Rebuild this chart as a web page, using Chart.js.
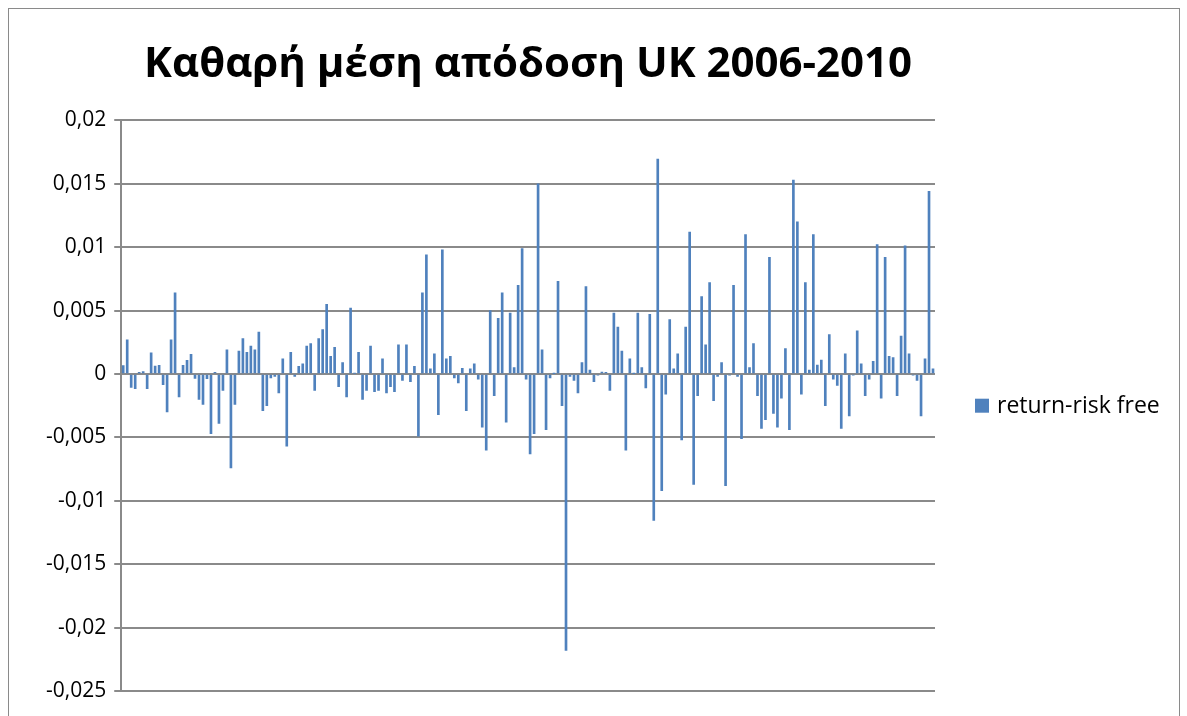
<!DOCTYPE html>
<html>
<head>
<meta charset="utf-8">
<script src="https://cdn.jsdelivr.net/npm/chart.js@4.4.0/dist/chart.umd.min.js"></script>
<style>
  html, body { margin: 0; padding: 0; background: #fff; overflow: hidden; }
  #frame { position: absolute; left: 8px; top: 8px; width: 1172px; height: 730px; border: 1px solid #8a8a8a; box-sizing: border-box; }
  #chartBox { position: absolute; left: 0; top: 0; width: 1187px; height: 716px; }
</style>
</head>
<body>
<div id="frame"></div>
<div id="chartBox"><canvas id="myChart"></canvas></div>
<script>
var chartTitle = 'Καθαρή μέση απόδοση UK 2006-2010';
var seriesName = 'return-risk free';
var barColor = '#4F81BD';
var gridColor = '#8a8a8a';

// weekly excess returns, 2006-2010
var excessReturn = [
  0.00066, 0.0027, -0.00105, -0.00116, 0.00013, 0.0002, -0.00116, 0.00166, 0.00063, 0.00068,
  -0.00084, -0.003, 0.0027, 0.0064, -0.0018, 0.00068, 0.00108, 0.00155, -0.00034, -0.002,
  -0.0024, -0.00037, -0.0047, 0.00013, -0.0039, -0.0013, 0.0019,
  -0.0074, -0.0024, 0.0018, 0.0028, 0.0017, 0.0022, 0.0019, 0.0033, -0.0029, -0.0025,
  -0.0003, -0.0002, -0.0015, 0.0012, -0.0057, 0.0017, -0.0002, 0.0006, 0.0008, 0.0022,
  0.0024, -0.0013, 0.0028, 0.0035, 0.0055, 0.0014,
  0.0021, -0.001, 0.0009, -0.0018, 0.0052, 0.00005, 0.0017, -0.002, -0.0013, 0.0022,
  -0.0014, -0.0013, 0.0012, -0.0015, -0.001, -0.0014, 0.0023, -0.0005, 0.0023, -0.0006,
  0.0006, -0.0049, 0.0064, 0.0094, 0.0004, 0.0016,
  -0.0032, 0.0098, 0.0012, 0.0014, -0.0003, -0.0007, 0.00045, -0.0029, 0.0004, 0.0008,
  -0.0004, -0.0042, -0.006, 0.005, -0.0017, 0.0044, 0.0064, -0.0038, 0.0048, 0.0005,
  0.007, 0.0099, -0.0004, -0.0063, -0.0047, 0.015, 0.0019,
  -0.0044, -0.0003, 0.00002, 0.0073, -0.0025, -0.0218, -0.0002, -0.0005, -0.0015, 0.0009,
  0.0069, 0.0003, -0.0006, -0.0001, 0.00015, 0.00013, -0.0013, 0.0048, 0.0037, 0.0018,
  -0.006, 0.0012, 0.00002, 0.0048, 0.0005, -0.0011,
  0.0047, -0.01155, 0.01695, -0.0092, -0.0016, 0.0043, 0.0004, 0.0016, -0.0052, 0.0037,
  0.0112, -0.0087, -0.0017, 0.0061, 0.0023, 0.0072, -0.0021, -0.0002, 0.0009, -0.0088,
  -0.0001, 0.007, -0.0002, -0.0051, 0.011, 0.0005,
  0.0024, -0.0017, -0.0043, -0.0036, 0.0092, -0.0031, -0.0042, -0.0019, 0.002, -0.0044,
  0.0153, 0.012, -0.0016, 0.0072, 0.0003, 0.011, 0.0007, 0.0011, -0.0025, 0.0031,
  -0.0004, -0.0009, -0.0043, 0.0016, -0.0033, -0.0001, 0.0034,
  0.0008, -0.0017, -0.0004, 0.001, 0.0102, -0.0019, 0.0092, 0.0014, 0.0013, -0.0017,
  0.003, 0.0101, 0.0016, -0.0001, -0.0005, -0.0033, 0.0012, 0.0144, 0.0004
];
// one category per week, not labelled on the axis
var weeks = excessReturn.map(function(v, i){ return i + 1; });

var yMin = -0.025, yMax = 0.02, yStep = 0.005;

function commaTick(v){
  return String(+v.toFixed(3)).replace('.', ',');
}

// legend drawn by hand, right of the plot and centred on it
var sideLegend = {
  id : 'sideLegend',
  afterDraw : function(chart){
    var a = chart.chartArea;
    var c = chart.ctx;
    var x = a.right + 40;
    var y = (a.top + a.bottom) / 2;
    var ds = chart.data.datasets[0];
    c.save();
    c.fillStyle = ds.backgroundColor;
    c.fillRect(x, y - 7, 14, 14);
    c.fillStyle = '#000';
    c.font = '23px "Open Sans"';
    c.textBaseline = 'middle';
    c.fillText(ds.label, x + 22, y + 1);
    c.restore();
  }
};

var ctx = document.getElementById('myChart').getContext('2d');
var myChart = new Chart(ctx, {
  type : 'bar',
  data : {
    labels : weeks,
    datasets : [{
      label : seriesName,
      data : excessReturn,
      backgroundColor : barColor,
      borderWidth : 0,
      barThickness : 2
    }]
  },
  options : {
    responsive : true,
    maintainAspectRatio : false,
    animation : false,
    layout : { padding : { left : 38, right : 252, top : 0, bottom : 25 } },
    plugins : {
      title : {
        display : true,
        text : chartTitle,
        fullSize : false,
        color : '#000',
        font : { family : 'Open Sans', size : 42, weight : 'bold' },
        padding : { top : 40, bottom : 30 }
      },
      legend : { display : false },
      tooltip : { enabled : false }
    },
    scales : {
      x : { display : false },
      y : {
        min : yMin,
        max : yMax,
        border : { color : gridColor, width : 2 },
        grid : { color : gridColor, lineWidth : 2, tickLength : 7 },
        ticks : {
          stepSize : yStep,
          padding : 8,
          color : '#000',
          font : { family : 'Open Sans', size : 21 },
          callback : function(v){ return commaTick(v); }
        }
      }
    }
  },
  plugins : [sideLegend]
});
</script>
</body>
</html>
